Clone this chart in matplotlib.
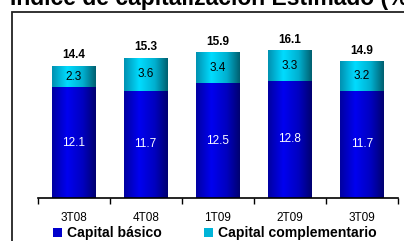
import numpy as np
import matplotlib
matplotlib.use("Agg")
import matplotlib.pyplot as plt
from matplotlib.patches import Rectangle, Patch
from matplotlib.colors import LinearSegmentedColormap

plt.rcParams['font.family'] = ['Liberation Sans', 'DejaVu Sans']

# data
quarters = ["3T08", "4T08", "1T09", "2T09", "3T09"]
capital_basico = [12.1, 11.7, 12.5, 12.8, 11.7]
capital_complementario = [2.3, 3.6, 3.4, 3.3, 3.2]
totals = [14.4, 15.3, 15.9, 16.1, 14.9]

blue_cmap = LinearSegmentedColormap.from_list(
    "blue", [(0, "#0000a0"), (0.35, "#0000f0"), (0.7, "#0000c0"), (1, "#000070")])
cyan_cmap = LinearSegmentedColormap.from_list(
    "cyan", [(0, "#0090b0"), (0.35, "#00dcff"), (0.7, "#00b0d0"), (1, "#005f6f")])

fig = plt.figure(figsize=(4.04, 2.41), dpi=100)
ax = fig.add_axes([37.5 / 404, 43 / 241, 360.5 / 404, 165 / 241])

x = np.arange(len(quarters))
width = 0.6
grad = np.linspace(0, 1, 256).reshape(1, -1)


def gradient_bars(bars, cmap):
    for b in bars:
        x0, y0 = b.get_x(), b.get_y()
        w, h = b.get_width(), b.get_height()
        im = ax.imshow(grad, cmap=cmap, aspect="auto",
                       extent=[x0, x0 + w, y0, y0 + h], zorder=2)
        im.set_clip_path(b)
        b.set_facecolor("none")


b1 = ax.bar(x, capital_basico, width, color="#0000cc", linewidth=0)
b2 = ax.bar(x, capital_complementario, width, bottom=capital_basico,
            color="#00ccff", linewidth=0)
gradient_bars(b1, blue_cmap)
gradient_bars(b2, cyan_cmap)

for i in range(len(quarters)):
    ax.text(x[i], capital_basico[i] / 2, f"{capital_basico[i]:.1f}",
            ha="center", va="center", color="white", fontsize=8.5, zorder=3)
    ax.text(x[i], capital_basico[i] + capital_complementario[i] / 2,
            f"{capital_complementario[i]:.1f}", ha="center", va="center",
            color="black", fontsize=8.5, zorder=3)
    ax.text(x[i], totals[i] + 0.5, f"{totals[i]:.1f}", ha="center",
            va="bottom", color="black", fontsize=8.5, fontweight="bold", zorder=3)

ax.set_xlim(-0.5, len(quarters) - 0.5)
ax.set_ylim(0, 18)
ax.set_yticks([])
for s in ["left", "right", "top"]:
    ax.spines[s].set_visible(False)
ax.spines["bottom"].set_linewidth(1.2)
ax.set_xticks(np.arange(-0.5, len(quarters)), minor=False)
ax.set_xticklabels([])
ax.set_xticks(x, minor=True)
ax.set_xticklabels(quarters, minor=True, fontsize=8.5)
ax.tick_params(axis="x", which="major", length=4, width=1)
ax.tick_params(axis="x", which="minor", length=0, pad=10)

# outer frame (runs past the image edges)
fig.patches.append(Rectangle((12 / 404, -0.1), 1.0, (241 - 11.5) / 241 + 0.1,
                             transform=fig.transFigure, fill=False,
                             edgecolor="#222222", linewidth=1.3))

# title is clipped by the top edge, as in the original
fig.text(10 / 404, 1 - 5 / 241, "Índice de capitalización Estimado (%)",
         ha="left", va="baseline", fontsize=16.5, fontweight="bold")

handles = [Patch(facecolor="#0000cc", edgecolor="none", label="Capital básico"),
           Patch(facecolor="#00b4d8", edgecolor="none",
                 label="Capital complementario")]
fig.legend(handles=handles, loc="center left",
           bbox_to_anchor=(53 / 404, 1 - 233 / 241),
           ncol=2, frameon=False, prop={"weight": "bold", "size": 10.1},
           handlelength=0.62, handleheight=0.62, handletextpad=0.38,
           columnspacing=3.0, borderpad=0, borderaxespad=0)

fig.savefig("out.png", dpi=100)
